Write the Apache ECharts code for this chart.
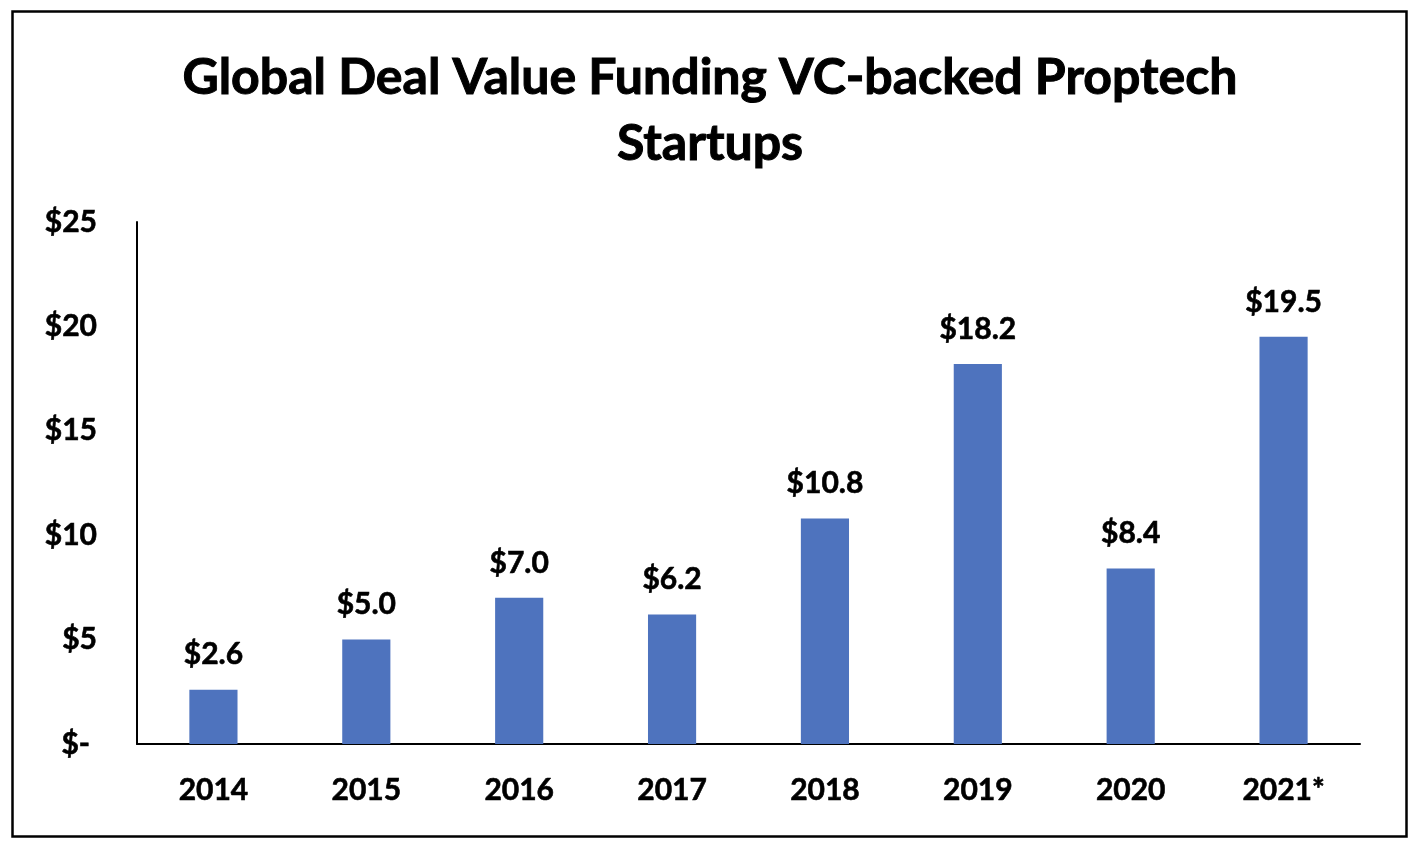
<!DOCTYPE html>
<html>
<head>
<meta charset="utf-8">
<script src="https://cdn.jsdelivr.net/npm/echarts@6/dist/echarts.min.js"></script>
<style>
html,body{margin:0;padding:0;background:#fff;}
#chart{width:1420px;height:860px;}
</style>
</head>
<body>
<div id="chart"></div>
<script>
const titleText = 'Global Deal Value Funding VC-backed Proptech\nStartups';
const categories = ['2014','2015','2016','2017','2018','2019','2020','2021*'];
const values = [2.6, 5.0, 7.0, 6.2, 10.8, 18.2, 8.4, 19.5];
const yMin = 0, yMax = 25, yStep = 5;

const FONT = 'Lato';
const heavy = {textBorderColor:'#000', textBorderWidth:0.6};
const chart = echarts.init(document.getElementById('chart'), null, {renderer:'canvas'});
chart.setOption({
  backgroundColor:'#ffffff',
  animation:false,
  graphic:[{
    type:'rect', left:10, top:9,
    shape:{width:1394, height:825},
    style:{fill:'none', stroke:'#000', lineWidth:2.5}
  }],
  title:{
    text:titleText, left:'center', top:40,
    textStyle:Object.assign({fontFamily:FONT, fontWeight:'bold', fontSize:50, color:'#000', lineHeight:66}, {textBorderColor:'#000', textBorderWidth:1})
  },
  grid:{left:137, right:60, top:222, bottom:116, containLabel:false},
  xAxis:{
    type:'category', data:categories,
    axisLine:{show:true, lineStyle:{color:'#000', width:2}},
    axisTick:{show:false},
    axisLabel:Object.assign({fontFamily:FONT, fontWeight:'bold', fontSize:30, color:'#000', margin:31}, heavy)
  },
  yAxis:{
    type:'value', min:yMin, max:yMax, interval:yStep,
    axisLine:{show:true, lineStyle:{color:'#000', width:2}},
    axisTick:{show:false},
    splitLine:{show:false},
    axisLabel:Object.assign({
      fontFamily:FONT, fontWeight:'bold', fontSize:30, color:'#000', margin:40,
      formatter:v => v === 0 ? '{z|$-}' : '$' + v,
      rich:{z:Object.assign({fontFamily:FONT, fontWeight:'bold', fontSize:30, color:'#000', padding:[0,7,0,0]}, heavy)}
    }, heavy)
  },
  series:[{
    type:'bar', data:values, barWidth:'31.5%',
    itemStyle:{color:'#4E73BE'},
    label:Object.assign({
      show:true, position:'top', distance:20,
      fontFamily:FONT, fontWeight:'bold', fontSize:30, color:'#000',
      formatter:p => '$' + p.value.toFixed(1)
    }, heavy)
  }]
});
</script>
</body>
</html>
